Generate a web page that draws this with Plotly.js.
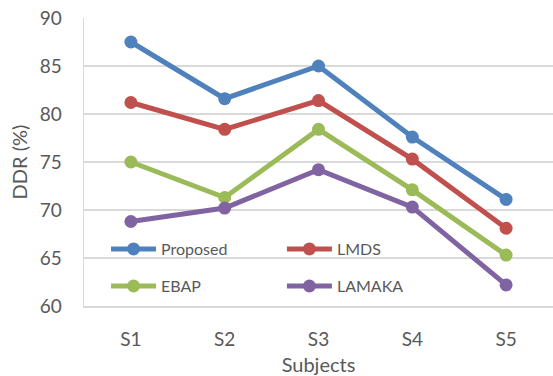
<!DOCTYPE html>
<html><head><meta charset="utf-8">
<script src="https://cdn.plot.ly/plotly-3.0.1.min.js"></script>
<style>html,body{margin:0;padding:0;background:#fff}#chart{width:553px;height:376px}</style>
</head><body><div id="chart"></div>
<script>
const subjects = ["S1","S2","S3","S4","S5"];
const proposed = [87.5, 81.6, 85.0, 77.6, 71.1];
const lmds     = [81.2, 78.4, 81.4, 75.3, 68.1];
const ebap     = [75.0, 71.3, 78.4, 72.1, 65.3];
const lamaka   = [68.8, 70.2, 74.2, 70.3, 62.2];
const yTicks   = [60, 65, 70, 75, 80, 85, 90];

const mk = (name, y, color, legend) => ({
  type: 'scatter', mode: 'lines+markers', name: name, x: subjects, y: y,
  line: {color: color, width: 5}, marker: {color: color, size: 13},
  legend: legend
});
const data = [
  mk('Proposed', proposed, '#4F81BD', 'legend'),
  mk('LMDS', lmds, '#C0504D', 'legend2'),
  mk('EBAP', ebap, '#9BBB59', 'legend3'),
  mk('LAMAKA', lamaka, '#8064A2', 'legend4')
];
const font = {family: 'Lato, "Open Sans", sans-serif', color: '#595959'};
const lg = (x, y) => ({
  orientation: 'v', xanchor: 'left', yanchor: 'middle', x: x, y: y,
  bgcolor: 'rgba(0,0,0,0)', itemwidth: 45,
  font: {family: font.family, color: '#595959', size: 16}
});
const layout = {
  width: 553, height: 376,
  margin: {l: 84, r: 0, t: 18, b: 70},
  paper_bgcolor: '#fff', plot_bgcolor: '#fff',
  font: font,
  showlegend: true,
  legend: lg(0.047, 0.198),
  legend2: lg(0.422, 0.198),
  legend3: lg(0.047, 0.069),
  legend4: lg(0.422, 0.069),
  xaxis: {
    type: 'category', range: [-0.5, 4.5], showgrid: false,
    showline: true, linecolor: '#D9D9D9', linewidth: 1.5,
    ticks: '', tickfont: {size: 19, color: '#595959'}, ticklabelstandoff: 16,
    title: {text: 'Subjects', font: {size: 20, color: '#595959'}, standoff: 16}
  },
  yaxis: {
    range: [60, 90], tickvals: yTicks, showgrid: true, gridcolor: '#D9D9D9', gridwidth: 1.5,
    showline: true, linecolor: '#D9D9D9', linewidth: 1.5, zeroline: false,
    ticks: '', tickfont: {size: 19, color: '#595959'}, ticklabelstandoff: 17,
    title: {text: 'DDR (%)', font: {size: 20, color: '#595959'}, standoff: 6}
  }
};
Plotly.newPlot('chart', data, layout, {displayModeBar: false, staticPlot: true});
</script></body></html>
